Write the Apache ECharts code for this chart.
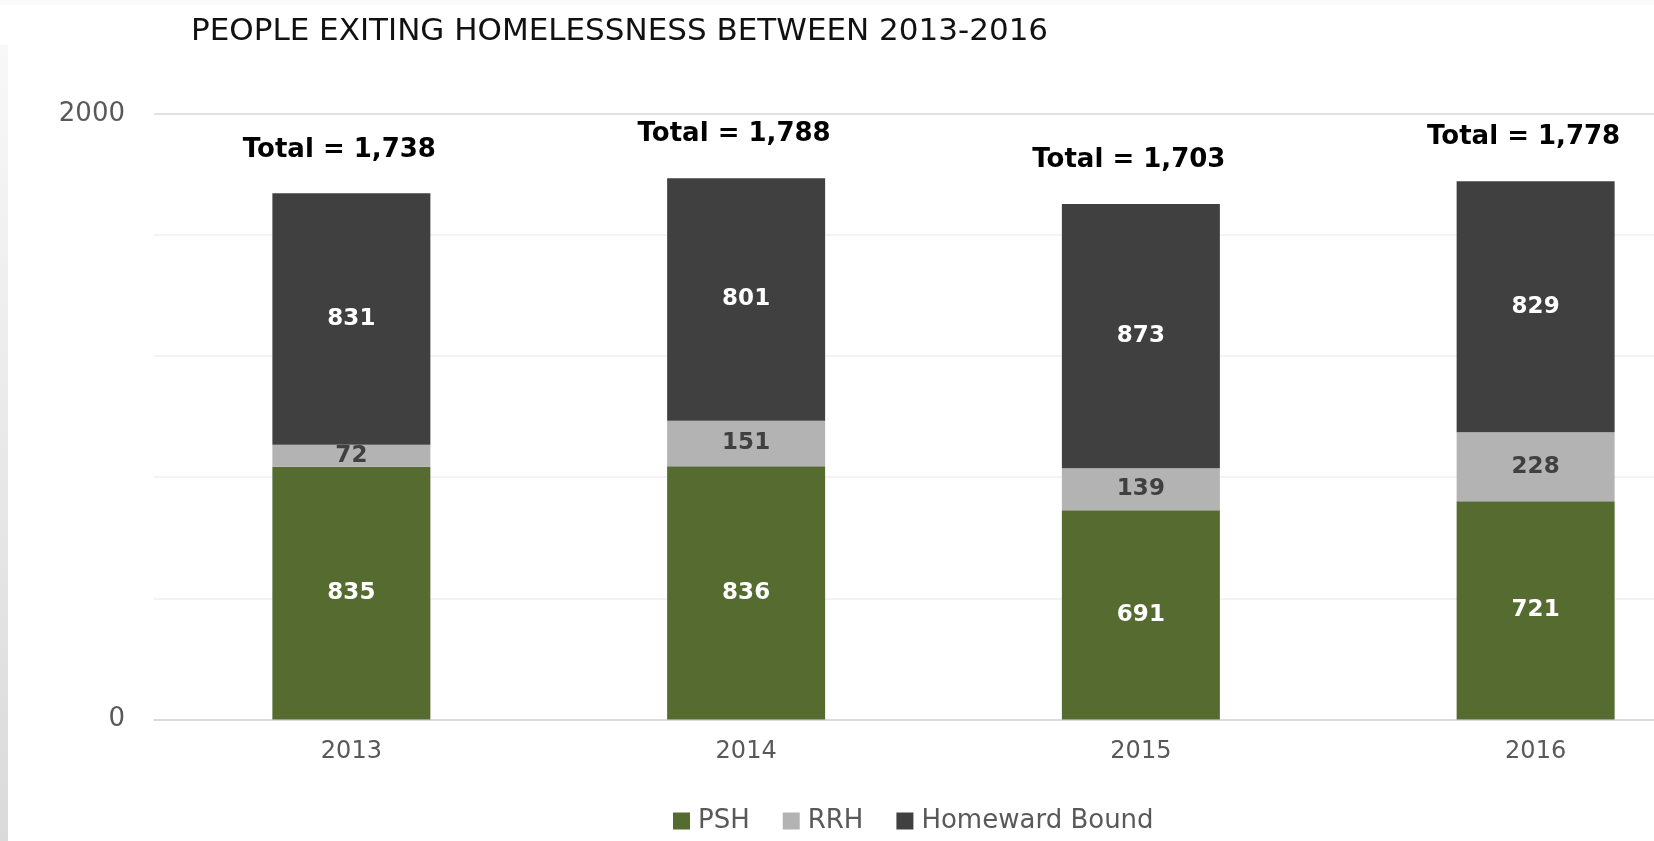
<!DOCTYPE html>
<html>
<head>
<meta charset="utf-8">
<script src="https://cdn.jsdelivr.net/npm/echarts@6/dist/echarts.min.js"></script>
<style>
html,body{margin:0;padding:0;background:#ffffff;}
#chart{width:1654px;height:841px;}
</style>
</head>
<body>
<div id="chart"></div>
<script>
const categories = ['2013', '2014', '2015', '2016'];
const psh = [835, 836, 691, 721];
const rrh = [72, 151, 139, 228];
const homewardBound = [831, 801, 873, 829];
const yTickLabels = [0, 2000];
const totals = categories.map((c, i) => psh[i] + rrh[i] + homewardBound[i]);

const FONT = 'DejaVu Sans';
const chart = echarts.init(document.getElementById('chart'), null, {renderer: 'canvas'});

function segLabel(color) {
  return {
    show: true,
    position: 'inside',
    color: color,
    fontFamily: FONT,
    fontWeight: 'bold',
    fontSize: 23
  };
}

chart.setOption({
  animation: false,
  backgroundColor: '#ffffff',
  graphic: [
    {type: 'rect', left: 0, top: 0, shape: {width: 1654, height: 5}, style: {fill: '#fafafa'}, silent: true},
    {type: 'rect', left: 0, top: 45, shape: {width: 8, height: 796},
      style: {fill: new echarts.graphic.LinearGradient(0, 0, 0, 1, [
        {offset: 0, color: '#f8f8f8'}, {offset: 1, color: '#dadada'}])}, silent: true}
  ],
  title: {
    text: 'PEOPLE EXITING HOMELESSNESS BETWEEN 2013-2016',
    left: 186,
    top: 11,
    textStyle: {fontFamily: FONT, fontSize: 31, fontWeight: 'normal', color: '#111111'}
  },
  legend: {
    data: ['PSH', 'RRH', 'Homeward Bound'],
    left: 668,
    top: 803,
    itemWidth: 17,
    itemHeight: 17,
    itemGap: 33,
    icon: 'rect',
    textStyle: {fontFamily: FONT, fontSize: 26, color: '#595959', padding: [0, 0, 0, 3]}
  },
  grid: {
    left: 154,
    right: -79,
    top: 114,
    bottom: 121.6,
    containLabel: false,
    outerBoundsMode: 'none'
  },
  xAxis: {
    type: 'category',
    data: categories,
    axisTick: {show: false},
    axisLine: {lineStyle: {color: '#d9d9d9', width: 1.5}},
    axisLabel: {fontFamily: FONT, fontSize: 24, color: '#595959', margin: 20}
  },
  yAxis: {
    type: 'value',
    min: 0,
    max: 2000,
    interval: 400,
    axisLine: {show: false},
    axisTick: {show: false},
    splitLine: {lineStyle: {color: ['#d9d9d9', '#efefef', '#efefef', '#efefef', '#efefef', '#d9d9d9'], width: 1.5}},
    axisLabel: {
      fontFamily: FONT, fontSize: 26, color: '#595959', margin: 29,
      formatter: v => (yTickLabels.indexOf(v) >= 0 ? String(v) : '')
    }
  },
  series: [
    {
      name: 'PSH', type: 'bar', stack: 'all', data: psh, barWidth: 158,
      itemStyle: {color: '#566b30'},
      label: segLabel('#ffffff'),
      emphasis: {disabled: true}
    },
    {
      name: 'RRH', type: 'bar', stack: 'all', data: rrh, barWidth: 158,
      itemStyle: {color: '#b3b3b3'},
      label: segLabel('#404040'),
      emphasis: {disabled: true}
    },
    {
      name: 'Homeward Bound', type: 'bar', stack: 'all', data: homewardBound, barWidth: 158,
      itemStyle: {color: '#404040'},
      label: segLabel('#ffffff'),
      emphasis: {disabled: true}
    },
    {
      name: 'Total', type: 'scatter', data: totals,
      symbol: 'rect', symbolSize: 1,
      itemStyle: {color: 'rgba(0,0,0,0)'},
      silent: true,
      z: 10,
      label: {
        show: true,
        position: 'top',
        distance: 30,
        offset: [-12, 0],
        fontFamily: FONT,
        fontWeight: 'bold',
        fontSize: 26,
        color: '#000000',
        opacity: 1,
        formatter: p => 'Total = ' + p.value.toLocaleString('en-US')
      },
      emphasis: {disabled: true}
    }
  ]
});
</script>
</body>
</html>
